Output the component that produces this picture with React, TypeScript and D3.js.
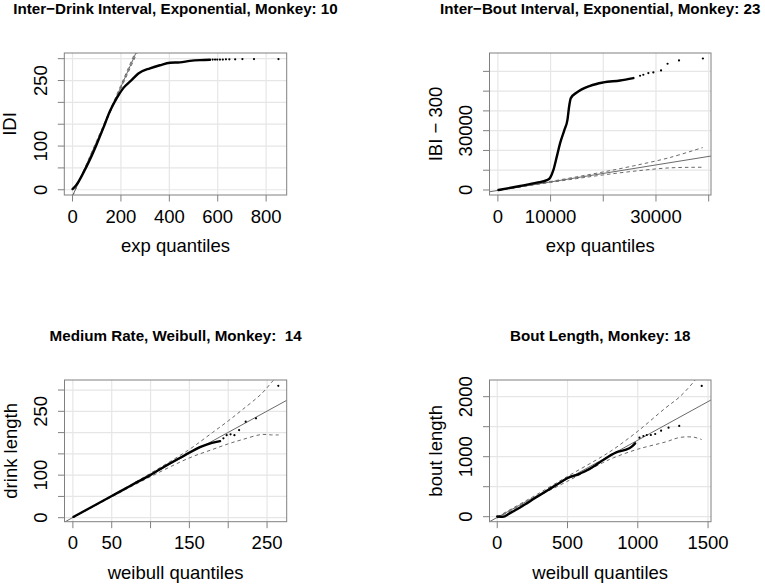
import React from "react";
import * as d3 from "d3";

// ---------- Panel 1: Inter-Drink Interval ----------
const P1_TITLE = "Inter\u2212Drink Interval, Exponential, Monkey: 10";
const P1_XTITLE = "exp quantiles";
const P1_YTITLE = "IDI";
const P1_THEO = [0, 16.5, 44, 71.6, 99, 127, 154, 182, 209, 244, 272, 320, 361, 403, 444, 485, 527, 568];
const P1_OBS = [1.6, 11.4, 38, 68.5, 103, 141, 179, 209, 232, 251, 266, 278, 285, 290.6, 291.6, 295, 296.8, 297.5];
const P1_TAIL_THEO = [579, 589, 598, 609, 621, 634, 648, 672, 702, 750, 851];
const P1_TAIL_OBS = [298, 298, 298, 298, 298, 298.5, 298.5, 298.5, 299, 299, 299];
const P1_LINE = [-14.4, 1.25];
const P1_ENV_X = [0, 100, 200, 265, 400, 851];
const P1_ENV_HW = [0.5, 2, 4, 5.6, 9, 25];
const P1_XDOM = [-34, 885];
const P1_YDOM = [-12, 313];
const P1_XTICKS = [0, 200, 400, 600, 800];
const P1_XLABELS = ["0", "200", "400", "600", "800"];
const P1_YTICKS = [0, 50, 100, 150, 200, 250, 300];
const P1_YLABELS = ["0", "", "100", "", "", "250", ""];

// ---------- Panel 2: Inter-Bout Interval ----------
const P2_TITLE = "Inter\u2212Bout Interval, Exponential, Monkey: 23";
const P2_XTITLE = "exp quantiles";
const P2_YTITLE = "IBI \u2212 300";
const P2_THEO = [110, 4230, 7390, 9290, 9915, 10540, 11180, 11810, 12630, 13200, 13520, 13840, 14970, 17500, 20020, 23180, 25710];
const P2_OBS = [0, 2030, 3700, 5000, 6200, 10140, 16880, 23670, 30400, 35480, 42220, 46450, 49320, 52700, 54400, 55400, 56600];
const P2_TAIL_THEO = [26980, 27600, 28550, 29500, 30960, 32200, 34370, 38900];
const P2_TAIL_OBS = [57780, 58290, 59150, 59460, 60470, 63860, 65540, 66500];
const P2_LINE = [-230, 0.43];
const P2_ENV_X = [0, 5000, 10000, 15000, 20000, 26000, 32600, 38900];
const P2_ENV_HW = [0, 100, 250, 450, 750, 1400, 2600, 5000];
const P2_XDOM = [-1590, 40440];
const P2_YDOM = [-2540, 69290];
const P2_XTICKS = [0, 10000, 20000, 30000, 40000];
const P2_XLABELS = ["0", "10000", "", "30000", ""];
const P2_YTICKS = [0, 10000, 20000, 30000, 40000, 50000, 60000];
const P2_YLABELS = ["0", "", "", "30000", "", "", ""];

// ---------- Panel 3: Medium Rate ----------
const P3_TITLE = "Medium Rate, Weibull, Monkey:  14";
const P3_XTITLE = "weibull quantiles";
const P3_YTITLE = "drink length";
const P3_THEO = [0.8, 20, 50, 76, 99.5, 123, 144.5, 166, 179, 189.5];
const P3_OBS = [2, 21, 51, 77, 100, 125.5, 147.5, 167.5, 176, 180];
const P3_TAIL_THEO = [193.8, 198, 203, 208, 214, 222.5, 235.8, 264.5];
const P3_TAIL_OBS = [186.6, 194, 196, 194, 206, 225.6, 233.6, 310];
const P3_LINE = [0.5, 1.0];
const P3_ENV_X = [0, 50, 100, 150, 180, 200, 218, 243, 256, 265];
const P3_ENV_HW = [0.3, 1.5, 4, 10, 20, 27, 35, 48, 62, 71];
const P3_XDOM = [-10.8, 275.3];
const P3_YDOM = [-9.4, 323.6];
const P3_XTICKS = [0, 50, 100, 150, 200, 250];
const P3_XLABELS = ["0", "50", "", "150", "", "250"];
const P3_YTICKS = [0, 50, 100, 150, 200, 250, 300];
const P3_YLABELS = ["0", "", "100", "", "", "250", ""];

// ---------- Panel 4: Bout Length ----------
const P4_TITLE = "Bout Length, Monkey: 18";
const P4_XTITLE = "weibull quantiles";
const P4_YTITLE = "bout length";
const P4_THEO = [0, 40, 88, 171, 266, 362, 457, 505, 576, 628, 671, 719, 790, 861, 909, 957, 981];
const P4_OBS = [3, 0, 56, 167, 306, 445, 584, 650, 706, 762, 817, 890, 1000, 1083, 1112, 1167, 1223];
const P4_TAIL_THEO = [1012, 1040, 1064, 1093, 1124, 1166, 1219, 1295, 1455];
const P4_TAIL_OBS = [1317, 1345, 1362, 1362, 1378, 1433, 1483, 1512, 2180];
const P4_LINE = [-12, 1.287];
const P4_ENV_X = [0, 250, 500, 750, 826, 1000, 1200, 1300, 1400, 1455];
const P4_ENV_HW = [10, 18, 40, 55, 70, 150, 285, 340, 465, 575];
const P4_XDOM = [-55, 1521];
const P4_YDOM = [-83, 2278];
const P4_XTICKS = [0, 500, 1000, 1500];
const P4_XLABELS = ["0", "500", "1000", "1500"];
const P4_YTICKS = [0, 500, 1000, 1500, 2000];
const P4_YLABELS = ["0", "", "1000", "", "2000"];

const FONT = "'Liberation Sans', Arial, Helvetica, sans-serif";
const AXIS_COL = "#808080";
const GRID_COL = "#e6e6e6";
const LINE_COL = "#6a6a6a";

type PanelProps = {
  id: string;
  box: [number, number, number, number];
  title: string;
  xTitle: string;
  yTitle: string;
  theo: number[];
  obs: number[];
  tailTheo: number[];
  tailObs: number[];
  line: number[];
  envX: number[];
  envHw: number[];
  xDom: number[];
  yDom: number[];
  xTicks: number[];
  xLabels: string[];
  yTicks: number[];
  yLabels: string[];
};

function Panel(p: PanelProps) {
  const [x0, x1, y0, y1] = p.box;
  const xs = d3.scaleLinear().domain(p.xDom).range([x0, x1]);
  const ys = d3.scaleLinear().domain(p.yDom).range([y1, y0]);
  const [a, b] = p.line;
  const dense = p.theo.map((t, i) => [t, p.obs[i]] as [number, number]);
  const densePath = d3
    .line<[number, number]>()
    .x((d) => xs(d[0]))
    .y((d) => ys(d[1]))
    .curve(d3.curveMonotoneX)(dense);
  const envLine = d3
    .line<[number, number]>()
    .x((d) => xs(d[0]))
    .y((d) => ys(d[1]))
    .curve(d3.curveCatmullRom);
  const upper = p.envX.map((x, i) => [x, a + b * x + p.envHw[i]] as [number, number]);
  const lower = p.envX.map((x, i) => [x, a + b * x - p.envHw[i]] as [number, number]);
  const clipId = "clip-" + p.id;
  const fs = 18.5;
  return (
    <g>
      <defs>
        <clipPath id={clipId}>
          <rect x={x0} y={y0} width={x1 - x0} height={y1 - y0} />
        </clipPath>
      </defs>
      {p.xTicks.map((t) => (
        <line key={"gx" + t} x1={xs(t)} x2={xs(t)} y1={y0} y2={y1} stroke={GRID_COL} strokeWidth={1.2} />
      ))}
      {p.yTicks.map((t) => (
        <line key={"gy" + t} x1={x0} x2={x1} y1={ys(t)} y2={ys(t)} stroke={GRID_COL} strokeWidth={1.2} />
      ))}
      <g clipPath={`url(#${clipId})`}>
        <line
          x1={xs(p.xDom[0])}
          y1={ys(a + b * p.xDom[0])}
          x2={xs(p.xDom[1])}
          y2={ys(a + b * p.xDom[1])}
          stroke={LINE_COL}
          strokeWidth={1}
        />
        <path d={envLine(upper) || ""} fill="none" stroke={LINE_COL} strokeWidth={1} strokeDasharray="3.5,3" />
        <path d={envLine(lower) || ""} fill="none" stroke={LINE_COL} strokeWidth={1} strokeDasharray="3.5,3" />
        <path d={densePath || ""} fill="none" stroke="#000" strokeWidth={2.4} strokeLinejoin="round" strokeLinecap="round" />
        {p.tailTheo.map((t, i) => (
          <circle key={"pt" + i} cx={xs(t)} cy={ys(p.tailObs[i])} r={1.1} fill="#000" />
        ))}
      </g>
      <rect x={x0} y={y0} width={x1 - x0} height={y1 - y0} fill="none" stroke={AXIS_COL} strokeWidth={1} />
      {p.xTicks.map((t, i) => (
        <g key={"xt" + t}>
          <line x1={xs(t)} x2={xs(t)} y1={y1} y2={y1 + 6.5} stroke={AXIS_COL} strokeWidth={1} />
          {p.xLabels[i] ? (
            <text x={xs(t)} y={y1 + 27.7} textAnchor="middle" fontSize={fs} fontFamily={FONT} fill="#000">
              {p.xLabels[i]}
            </text>
          ) : null}
        </g>
      ))}
      {p.yTicks.map((t, i) => (
        <g key={"yt" + t}>
          <line x1={x0 - 6.5} x2={x0} y1={ys(t)} y2={ys(t)} stroke={AXIS_COL} strokeWidth={1} />
          {p.yLabels[i] ? (
            <text
              transform={`translate(${x0 - 17.6},${ys(t)}) rotate(-90)`}
              textAnchor="middle"
              fontSize={fs}
              fontFamily={FONT}
              fill="#000"
            >
              {p.yLabels[i]}
            </text>
          ) : null}
        </g>
      ))}
      <text
        x={(x0 + x1) / 2}
        y={y0 - 39.5}
        textAnchor="middle"
        fontSize={15.2}
        fontWeight="bold"
        fontFamily={FONT}
        fill="#000"
        style={{ whiteSpace: "pre" }}
      >
        {p.title}
      </text>
      <text x={(x0 + x1) / 2} y={y1 + 57} textAnchor="middle" fontSize={fs} fontFamily={FONT} fill="#000">
        {p.xTitle}
      </text>
      <text
        transform={`translate(${x0 - 48},${(y0 + y1) / 2}) rotate(-90)`}
        textAnchor="middle"
        fontSize={fs}
        fontFamily={FONT}
        fill="#000"
      >
        {p.yTitle}
      </text>
    </g>
  );
}

export default function App() {
  return (
    <svg
      width={765}
      height={587}
      viewBox="0 0 765 587"
      style={{ position: "absolute", left: 0, top: 0, background: "#fff" }}
    >
      <rect x={0} y={0} width={765} height={587} fill="#fff" />
      <Panel
        id="p1"
        box={[64.3, 286.7, 53, 195]}
        title={P1_TITLE}
        xTitle={P1_XTITLE}
        yTitle={P1_YTITLE}
        theo={P1_THEO}
        obs={P1_OBS}
        tailTheo={P1_TAIL_THEO}
        tailObs={P1_TAIL_OBS}
        line={P1_LINE}
        envX={P1_ENV_X}
        envHw={P1_ENV_HW}
        xDom={P1_XDOM}
        yDom={P1_YDOM}
        xTicks={P1_XTICKS}
        xLabels={P1_XLABELS}
        yTicks={P1_YTICKS}
        yLabels={P1_YLABELS}
      />
      <Panel
        id="p2"
        box={[489.5, 711, 53, 195]}
        title={P2_TITLE}
        xTitle={P2_XTITLE}
        yTitle={P2_YTITLE}
        theo={P2_THEO}
        obs={P2_OBS}
        tailTheo={P2_TAIL_THEO}
        tailObs={P2_TAIL_OBS}
        line={P2_LINE}
        envX={P2_ENV_X}
        envHw={P2_ENV_HW}
        xDom={P2_XDOM}
        yDom={P2_YDOM}
        xTicks={P2_XTICKS}
        xLabels={P2_XLABELS}
        yTicks={P2_YTICKS}
        yLabels={P2_YLABELS}
      />
      <Panel
        id="p3"
        box={[64.5, 286.7, 380, 521.7]}
        title={P3_TITLE}
        xTitle={P3_XTITLE}
        yTitle={P3_YTITLE}
        theo={P3_THEO}
        obs={P3_OBS}
        tailTheo={P3_TAIL_THEO}
        tailObs={P3_TAIL_OBS}
        line={P3_LINE}
        envX={P3_ENV_X}
        envHw={P3_ENV_HW}
        xDom={P3_XDOM}
        yDom={P3_YDOM}
        xTicks={P3_XTICKS}
        xLabels={P3_XLABELS}
        yTicks={P3_YTICKS}
        yLabels={P3_YLABELS}
      />
      <Panel
        id="p4"
        box={[489.5, 711, 380, 521.7]}
        title={P4_TITLE}
        xTitle={P4_XTITLE}
        yTitle={P4_YTITLE}
        theo={P4_THEO}
        obs={P4_OBS}
        tailTheo={P4_TAIL_THEO}
        tailObs={P4_TAIL_OBS}
        line={P4_LINE}
        envX={P4_ENV_X}
        envHw={P4_ENV_HW}
        xDom={P4_XDOM}
        yDom={P4_YDOM}
        xTicks={P4_XTICKS}
        xLabels={P4_XLABELS}
        yTicks={P4_YTICKS}
        yLabels={P4_YLABELS}
      />
    </svg>
  );
}
